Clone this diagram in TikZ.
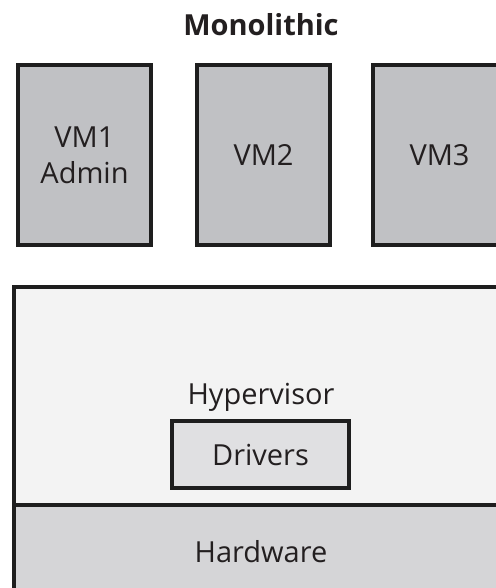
\documentclass[tikz,border=0pt]{standalone}
\usepackage{fontspec}
\setmainfont{Open Sans}
\definecolor{ink}{HTML}{231F20}
\definecolor{edge}{HTML}{1E1E1E}
\definecolor{vmgray}{HTML}{C0C1C4}
\definecolor{hvgray}{HTML}{F3F3F3}
\definecolor{drvgray}{HTML}{E0E0E2}
\definecolor{hwgray}{HTML}{D5D5D7}

\begin{document}
\begin{tikzpicture}[x=0.02cm, y=-0.02cm,
    txt/.style={text=ink, font=\fontsize{16.5}{20.5}\selectfont, align=center},
    vmbox/.style={txt, draw=edge, line width=0.08cm, fill=vmgray,
        minimum width=2.66cm, minimum height=3.6cm, inner sep=0pt}]
        \clip (0,0) rectangle (496,588);
        \node[txt, font=\fontsize{16.5}{20.5}\selectfont\bfseries] (title) at (261,25) {Monolithic};
        
        \node[vmbox] (vm1) at (84.5,155) {VM1\\Admin};
        \node[vmbox] (vm2) at (263.5,155) {VM2};
        \node[vmbox] (vm3) at (439.5,155) {VM3};
        
        \filldraw[draw=edge, fill=hvgray, line width=0.08cm] (14,287) rectangle (530,640);
        \filldraw[draw=edge, fill=hwgray, line width=0.08cm] (14,505) rectangle (530,640);
        
        \node[txt] (hyper) at (261,397) {Hypervisor};
        \node[txt, draw=edge, line width=0.08cm, fill=drvgray,
            minimum width=3.54cm, minimum height=1.34cm, inner sep=0pt] (drivers) at (260.5,454.5) {Drivers};
        \node[txt] (hw) at (261,552) {Hardware};
        
    \end{tikzpicture}
\end{document}
